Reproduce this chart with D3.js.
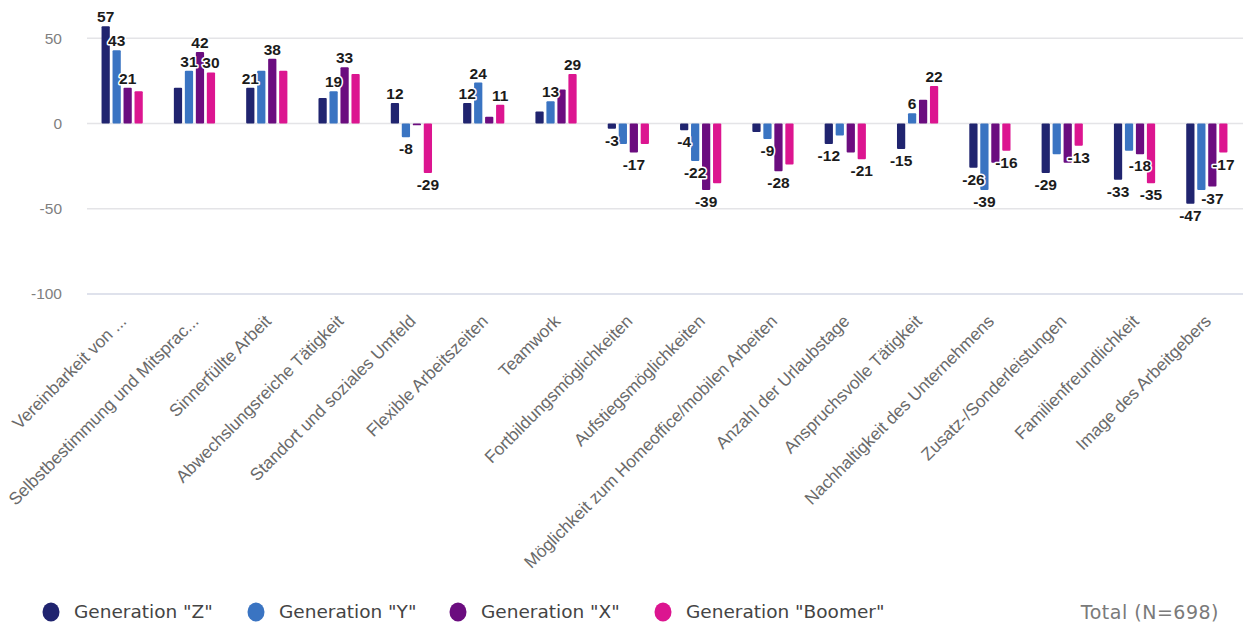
<!DOCTYPE html>
<html lang="de">
<head>
<meta charset="utf-8">
<script src="https://cdn.jsdelivr.net/npm/d3@7"></script>
<style>
  html, body { margin: 0; padding: 0; background: #fff; }
  svg { display: block; }
</style>
</head>
<body>
<svg id="chart" width="1244" height="626"></svg>
<script>
// Kategorien (Arbeitgeber-Merkmale)
const categories = [
  "Vereinbarkeit von ...",
  "Selbstbestimmung und Mitsprac...",
  "Sinnerfüllte Arbeit",
  "Abwechslungsreiche Tätigkeit",
  "Standort und soziales Umfeld",
  "Flexible Arbeitszeiten",
  "Teamwork",
  "Fortbildungsmöglichkeiten",
  "Aufstiegsmöglichkeiten",
  "Möglichkeit zum Homeoffice/mobilen Arbeiten",
  "Anzahl der Urlaubstage",
  "Anspruchsvolle Tätigkeit",
  "Nachhaltigkeit des Unternehmens",
  "Zusatz-/Sonderleistungen",
  "Familienfreundlichkeit",
  "Image des Arbeitgebers"
];

const seriesNames = ['Generation "Z"', 'Generation "Y"', 'Generation "X"', 'Generation "Boomer"'];

const genZ      = [57, 21, 21, 15, 12, 12,  7,  -3,  -4,  -5, -12, -15, -26, -29, -33, -47];
const genY      = [43, 31, 31, 19, -8, 24, 13, -12, -22,  -9,  -7,   6, -39, -18, -16, -39];
const genX      = [21, 42, 38, 33, -1,  4, 20, -17, -39, -28, -17,  14, -23, -23, -18, -37];
const genBoomer = [19, 30, 31, 29, -29, 11, 29, -12, -35, -24, -21,  22, -16, -13, -35, -17];

// Welche Werte eine Beschriftung erhalten (1 = sichtbar)
const labelZ      = [1, 0, 1, 0, 1, 1, 0, 1, 1, 0, 1, 1, 1, 1, 1, 1];
const labelY      = [1, 1, 0, 1, 1, 1, 1, 0, 1, 1, 0, 1, 1, 0, 0, 0];
const labelX      = [1, 1, 1, 1, 0, 0, 0, 1, 1, 1, 0, 0, 0, 0, 1, 1];
const labelBoomer = [0, 1, 0, 0, 1, 1, 1, 0, 0, 0, 1, 1, 1, 1, 1, 1];

const yTicks = [50, 0, -50, -100];
const footnote = "Total (N=698)";

const colors = ["#20246f", "#3a74c2", "#6b0d7f", "#dc1590"];

const seriesValues = [genZ, genY, genX, genBoomer];
const seriesLabels = [labelZ, labelY, labelX, labelBoomer];

const svg = d3.select("#chart");

const plotLeft = 86, plotRight = 1243;

const y = d3.scaleLinear().domain([-100, 50]).range([294, 38.3]);

const x0 = d3.scaleBand()
  .domain(categories)
  .range([plotLeft, plotRight])
  .paddingInner(0.43)
  .paddingOuter(0.215);

const x1 = d3.scaleBand()
  .domain(d3.range(seriesNames.length))
  .range([0, x0.bandwidth()])
  .paddingInner(0.25)
  .paddingOuter(0);

// Gitternetzlinien
svg.append("g")
  .selectAll("line")
  .data(yTicks)
  .join("line")
  .attr("x1", plotLeft + 1)
  .attr("x2", plotRight)
  .attr("y1", d => y(d))
  .attr("y2", d => y(d))
  .attr("stroke", d => d === -100 ? "#d5d9e6" : "#e4e4e7")
  .attr("stroke-width", 1.5);

// y-Achse
const yAxis = svg.append("g")
  .attr("transform", `translate(${plotLeft},0)`)
  .call(d3.axisLeft(y).tickValues(yTicks).tickFormat(d => String(d)).tickSize(0).tickPadding(24));
yAxis.select(".domain").remove();
yAxis.selectAll("text")
  .attr("font-family", "'Liberation Sans', Arial, sans-serif")
  .attr("font-size", 15.5)
  .attr("fill", "#808080");

// Balken
const groups = svg.append("g")
  .selectAll("g")
  .data(categories.map((c, i) => ({ c, i })))
  .join("g")
  .attr("transform", d => `translate(${x0(d.c)},0)`);

groups.selectAll("rect")
  .data(d => seriesValues.map((vals, s) => ({ s, v: vals[d.i] })))
  .join("rect")
  .attr("x", d => x1(d.s))
  .attr("width", x1.bandwidth())
  .attr("y", d => y(Math.max(0, d.v)))
  .attr("height", d => Math.max(1, Math.abs(y(d.v) - y(0))))
  .attr("rx", 1)
  .attr("fill", d => colors[d.s]);

// Wertbeschriftungen
groups.selectAll("text.val")
  .data(d => seriesValues.map((vals, s) => ({ s, v: vals[d.i], show: seriesLabels[s][d.i] }))
    .filter(e => e.show))
  .join("text")
  .attr("class", "val")
  .attr("x", d => x1(d.s) + x1.bandwidth() / 2)
  .attr("y", d => d.v >= 0 ? y(d.v) - 9.5 : y(d.v) + 11.5)
  .attr("text-anchor", "middle")
  .attr("dominant-baseline", "central")
  .attr("font-family", "'Liberation Sans', Arial, sans-serif")
  .attr("font-weight", "bold")
  .attr("font-size", 15.5)
  .attr("fill", "#1b1b1b")
  .attr("stroke", "#ffffff")
  .attr("stroke-width", 3)
  .attr("stroke-linejoin", "round")
  .attr("paint-order", "stroke")
  .text(d => d.v);

// x-Achse mit gedrehten Beschriftungen
const xAxis = svg.append("g")
  .attr("transform", "translate(0,318)")
  .call(d3.axisBottom(x0).tickSize(0).tickPadding(0));
xAxis.select(".domain").remove();
xAxis.selectAll("text")
  .attr("font-family", "'Liberation Sans', Arial, sans-serif")
  .attr("font-size", 17.3)
  .attr("fill", "#6a6a6a")
  .attr("text-anchor", "end")
  .attr("dy", "0.35em")
  .attr("transform", "translate(1,0) rotate(-45)");

// Legende
const legend = svg.append("g").attr("transform", "translate(0,612)");
const legendX = [51, 256, 458, 663];
const items = legend.selectAll("g")
  .data(seriesNames.map((n, i) => ({ n, i })))
  .join("g")
  .attr("transform", d => `translate(${legendX[d.i]},0)`);
items.append("ellipse")
  .attr("rx", 8.5)
  .attr("ry", 9.5)
  .attr("fill", d => colors[d.i]);
items.append("text")
  .attr("x", 23)
  .attr("dy", "0.35em")
  .attr("font-family", "'DejaVu Sans', sans-serif")
  .attr("font-size", 18.5)
  .attr("fill", "#444")
  .text(d => d.n);

svg.append("text")
  .attr("x", 1219)
  .attr("y", 612)
  .attr("dy", "0.35em")
  .attr("text-anchor", "end")
  .attr("font-family", "'DejaVu Sans', sans-serif")
  .attr("font-size", 19)
  .attr("letter-spacing", 0.5)
  .attr("fill", "#7a7a7a")
  .text(footnote);
</script>
</body>
</html>
